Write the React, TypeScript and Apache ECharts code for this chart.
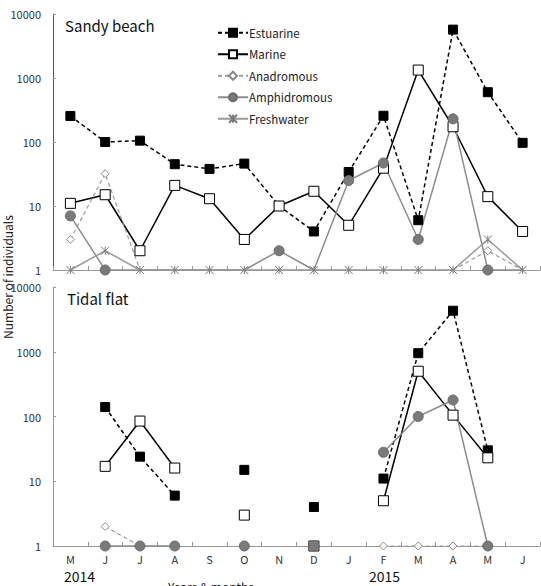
import React, { useEffect, useRef } from "react";
import * as echarts from "echarts";

const months = ["M", "J", "J", "A", "S", "O", "N", "D", "J", "F", "M", "A", "M", "J"];
const yTicks = [1, 10, 100, 1000, 10000];
const seriesNames = ["Estuarine", "Marine", "Anadromous", "Amphidromous", "Freshwater"];

// Sandy beach (0 = none caught, drawn at the axis floor without a marker)
const sandyEstuarine = [255, 100, 105, 45, 38, 46, 10, 4, 34, 257, 6, 5700, 600, 97];
const sandyMarine = [11, 15, 2, 21, 13, 3, 10, 17, 5, 39, 1330, 173, 14, 4];
const sandyAnadromous = [3, 32, 0, 0, 0, 0, 0, 0, 0, 0, 0, 0, 2, 0];
const sandyAmphidromous = [7, 1, 0, 0, 0, 0, 2, 0, 25, 47, 3, 230, 1, 0];
const sandyFreshwater = [1, 2, 1, 1, 1, 1, 1, 1, 1, 1, 1, 1, 3, 1];

// Tidal flat (null = not sampled)
const tidalEstuarine = [null, 140, 24, 6, null, 15, null, 4, null, 11, 950, 4300, 30, null];
const tidalMarine = [null, 17, 85, 16, null, 3, null, 1, null, 5, 500, 105, 23, null];
const tidalAnadromous = [null, 2, 1, 1, null, 1, null, 1, null, 1, 1, 1, 1, null];
const tidalAmphidromous = [null, 1, 1, 1, null, 1, null, 1, null, 28, 100, 180, 1, null];

const FONT = "'Noto Sans CJK JP', 'Noto Sans', sans-serif";
const starPath = "path://M0,0L10,10M10,0L0,10M5,0L5,10";

const styles: any = {
  Estuarine: {
    line: { color: "#000", width: 1.5, type: [4, 3] },
    symbol: "rect",
    size: 9,
    item: { color: "#000", borderColor: "#000", borderWidth: 1 },
  },
  Marine: {
    line: { color: "#000", width: 1.5, type: "solid" },
    symbol: "rect",
    size: 10,
    item: { color: "#fff", borderColor: "#000", borderWidth: 1 },
  },
  Anadromous: {
    line: { color: "#9a9a9a", width: 1.2, type: [4, 3] },
    symbol: "diamond",
    size: 8,
    item: { color: "#fff", borderColor: "#8a8a8a", borderWidth: 1 },
  },
  Amphidromous: {
    line: { color: "#8c8c8c", width: 1.5, type: "solid" },
    symbol: "circle",
    size: 10,
    item: { color: "#7a7a7a", borderColor: "#6a6a6a", borderWidth: 1 },
  },
  Freshwater: {
    line: { color: "#9a9a9a", width: 1.5, type: "solid" },
    symbol: starPath,
    size: 8,
    item: { color: "rgba(0,0,0,0)", borderColor: "#7a7a7a", borderWidth: 1 },
  },
};

const toItem = (v: number | null) =>
  v === null ? null : v === 0 ? { value: 1, symbol: "none" } : v;

function makeSeries(name: string, data: (number | null)[], idx: number) {
  const s = styles[name];
  return {
    type: "line",
    name,
    xAxisIndex: idx,
    yAxisIndex: idx,
    data: data.map(toItem),
    symbol: s.symbol,
    symbolSize: s.size,
    symbolKeepAspect: true,
    showAllSymbol: true,
    lineStyle: s.line,
    itemStyle: s.item,
    connectNulls: false,
    emphasis: { disabled: true },
  };
}

const grids = [
  { left: 53, top: 14, width: 487, height: 256 },
  { left: 53, top: 287, width: 487, height: 259 },
];

export default function App() {
  const ref = useRef<HTMLDivElement>(null);
  useEffect(() => {
    document.body.style.margin = "0";
    const chart = echarts.init(ref.current!, null, { renderer: "svg" });
    const yAxis = (i: number) => ({
      type: "log",
      logBase: 10,
      min: 1,
      max: 10000,
      gridIndex: i,
      axisLine: { show: true, lineStyle: { color: i === 0 ? "#555" : "#999", width: 1 } },
      axisTick: { show: true, inside: true, length: 3, lineStyle: { color: "#999" } },
      splitLine: { show: false },
      minorTick: { show: false },
      axisLabel: {
        color: "#333",
        fontSize: 11,
        fontFamily: FONT,
        margin: 12,
        formatter: (v: number) => (yTicks.indexOf(Math.round(v)) >= 0 ? String(Math.round(v)) : ""),
      },
    });
    const xAxis = (i: number) => ({
      type: "category",
      data: months,
      gridIndex: i,
      boundaryGap: true,
      axisLine: { show: true, lineStyle: { color: "#999", width: 1 } },
      axisTick: { show: true, inside: true, length: 4, lineStyle: { color: "#999" } },
      axisLabel: {
        show: i === 1,
        color: "#333",
        fontSize: 11,
        lineHeight: 11,
        fontFamily: FONT,
        margin: 7,
        interval: 0,
      },
      splitLine: { show: false },
    });
    const option: any = {
      animation: false,
      backgroundColor: "#fff",
      textStyle: { fontFamily: FONT },
      grid: grids,
      xAxis: [xAxis(0), xAxis(1)],
      yAxis: [yAxis(0), yAxis(1)],
      legend: {
        data: seriesNames,
        orient: "vertical",
        left: 212,
        top: 22,
        itemGap: 10,
        itemWidth: 30,
        itemHeight: 10,
        textStyle: { fontSize: 11.5, color: "#222", fontFamily: FONT, padding: [0, 0, 0, -4] },
        selectedMode: false,
      },
      series: [
        makeSeries("Estuarine", sandyEstuarine, 0),
        makeSeries("Marine", sandyMarine, 0),
        makeSeries("Anadromous", sandyAnadromous, 0),
        makeSeries("Amphidromous", sandyAmphidromous, 0),
        makeSeries("Freshwater", sandyFreshwater, 0),
        makeSeries("Estuarine", tidalEstuarine, 1),
        makeSeries("Marine", tidalMarine, 1),
        makeSeries("Anadromous", tidalAnadromous, 1),
        makeSeries("Amphidromous", tidalAmphidromous, 1),
      ],
      graphic: [
        { type: "text", left: 65, top: 18, style: { text: "Sandy beach", fontSize: 15, fill: "#111", fontFamily: FONT } },
        { type: "text", left: 67, top: 291, style: { text: "Tidal flat", fontSize: 15, fill: "#111", fontFamily: FONT } },
        { type: "text", left: 64, top: 569, style: { text: "2014", fontSize: 14, lineHeight: 14, fill: "#111", fontFamily: FONT } },
        { type: "text", left: 369, top: 569, style: { text: "2015", fontSize: 14, lineHeight: 14, fill: "#111", fontFamily: FONT } },
        { type: "text", left: 168, top: 580, style: { text: "Years & months", fontSize: 12, fill: "#222", fontFamily: FONT } },
        {
          type: "text",
          x: 1,
          y: 277,
          rotation: Math.PI / 2,
          style: {
            text: "Number of individuals",
            fontSize: 12,
            fill: "#222",
            fontFamily: FONT,
            align: "center",
            verticalAlign: "top",
          },
        },
      ],
    };
    chart.setOption(option);
    return () => chart.dispose();
  }, []);
  return <div ref={ref} style={{ width: 541, height: 586 }} />;
}
